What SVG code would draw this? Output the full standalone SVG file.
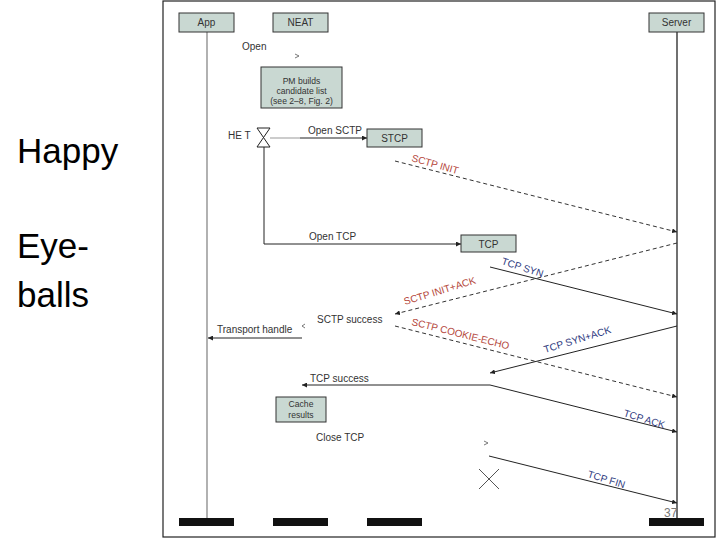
<svg xmlns="http://www.w3.org/2000/svg" width="720" height="540" viewBox="0 0 720 540">
<style>
.t{font-family:"Liberation Sans",Arial,sans-serif;font-size:10px;fill:#333}
.pm{font-size:8.6px}
.big{font-family:"Liberation Sans",Arial,sans-serif;font-size:35px;fill:#000}
.box{fill:#c9d8d2;stroke:#333;stroke-width:1}
.red{fill:#b5483c}
.blue{fill:#2e3a80}
.sol{stroke:#222;stroke-width:1;fill:none}
.dash{stroke:#333;stroke-width:1;fill:none;stroke-dasharray:4 3}
.bar{fill:#111}
</style>
<defs>
<marker id="ah" viewBox="0 0 6 6" refX="6" refY="3" markerWidth="5" markerHeight="5" orient="auto">
<path d="M0,0 L6,3 L0,6 Z" fill="#222"/>
</marker>
</defs>
<rect width="720" height="540" fill="#fff"/>
<g id="title">
<text class="big" x="17" y="163">Happy</text>
<text class="big" x="17" y="258">Eye-</text>
<text class="big" x="17" y="307">balls</text>
</g>
<rect id="frame" x="163" y="1" width="552" height="536" fill="none" stroke="#222" stroke-width="1.2"/>
<g id="connectors">
<line x1="207" y1="32" x2="207" y2="518" stroke="#888" stroke-width="1.3"/>
<line x1="677" y1="32" x2="677" y2="518" stroke="#111" stroke-width="1.2"/>
<path d="M295,54 L299,56 L295,58" fill="none" stroke="#555" stroke-width="0.8"/>
<line x1="270" y1="138" x2="300" y2="138" stroke="#999" stroke-width="1"/>
<line x1="300" y1="138" x2="367" y2="138" class="sol" marker-end="url(#ah)"/>
<path d="M264,147 V244 H461" class="sol" marker-end="url(#ah)"/>
<line x1="395" y1="161" x2="677" y2="232" class="dash" marker-end="url(#ah)"/>
<line x1="677" y1="243" x2="395" y2="314" class="dash" marker-end="url(#ah)"/>
<line x1="490" y1="267" x2="677" y2="314" class="sol" marker-end="url(#ah)"/>
<line x1="395" y1="326" x2="677" y2="397" class="dash" marker-end="url(#ah)"/>
<line x1="677" y1="326" x2="490" y2="373" class="sol" marker-end="url(#ah)"/>
<line x1="490" y1="385" x2="302" y2="385" class="sol" marker-end="url(#ah)"/>
<line x1="490" y1="385" x2="677" y2="432" class="sol" marker-end="url(#ah)"/>
<path d="M305,324 L302,326 L305,328" fill="none" stroke="#555" stroke-width="0.8"/>
<line x1="302" y1="338" x2="208" y2="338" class="sol" marker-end="url(#ah)"/>
<path d="M484,441 L488,443 L484,445" fill="none" stroke="#555" stroke-width="0.8"/>
<line x1="489" y1="456" x2="677" y2="503" class="sol" marker-end="url(#ah)"/>
<path d="M479,469 L499,489 M499,469 L479,489" stroke="#555" stroke-width="1" fill="none"/>
</g>
<g id="app"><rect class="box" x="179" y="13" width="55" height="19"/><text class="t" x="206.5" y="26" text-anchor="middle">App</text></g>
<g id="neat"><rect class="box" x="273" y="13" width="55" height="19"/><text class="t" x="300.5" y="26" text-anchor="middle">NEAT</text></g>
<g id="server"><rect class="box" x="649" y="13" width="55" height="19"/><text class="t" x="676.5" y="26" text-anchor="middle">Server</text></g>
<g id="open"><text class="t" x="242" y="50">Open</text></g>
<g id="pm">
<rect class="box" x="261" y="67" width="81" height="41"/>
<text class="t pm" x="301.5" y="84" text-anchor="middle">PM builds</text>
<text class="t pm" x="301.5" y="94" text-anchor="middle">candidate list</text>
<text class="t pm" x="301.5" y="104" text-anchor="middle">(see 2–8, Fig. 2)</text>
</g>
<g id="timer">
<text class="t" x="228" y="139">HE T</text>
<path d="M257,128 H270 L257,147 H270 Z" fill="#fff" stroke="#222" stroke-width="1"/>
</g>
<g id="stcp"><rect class="box" x="367" y="129" width="55" height="18"/><text class="t" x="394.5" y="142" text-anchor="middle">STCP</text></g>
<g id="tcp"><rect class="box" x="461" y="235" width="55" height="17"/><text class="t" x="488.5" y="248" text-anchor="middle">TCP</text></g>
<g id="cache">
<rect class="box" x="276" y="397" width="50" height="25"/>
<text class="t pm" x="301" y="407" text-anchor="middle">Cache</text>
<text class="t pm" x="301" y="418" text-anchor="middle">results</text>
</g>
<g id="labels">
<text class="t" x="308" y="134">Open SCTP</text>
<text class="t" x="309" y="240">Open TCP</text>
<text class="t" x="317" y="323">SCTP success</text>
<text class="t" x="217" y="333">Transport handle</text>
<text class="t" x="310" y="382">TCP success</text>
<text class="t" x="316" y="441">Close TCP</text>
<text class="t red" transform="translate(411,161) rotate(16)">SCTP INIT</text>
<text class="t red" transform="translate(405,305) rotate(-17)">SCTP INIT+ACK</text>
<text class="t red" transform="translate(411,325) rotate(14)">SCTP COOKIE-ECHO</text>
<text class="t blue" transform="translate(501,264) rotate(18)">TCP SYN</text>
<text class="t blue" transform="translate(545,353) rotate(-17)">TCP SYN+ACK</text>
<text class="t blue" transform="translate(623,416) rotate(17)">TCP ACK</text>
<text class="t blue" transform="translate(587,477) rotate(17)">TCP FIN</text>
</g>
<g id="bars">
<rect class="bar" x="179" y="518" width="55" height="8"/>
<rect class="bar" x="273" y="518" width="55" height="8"/>
<rect class="bar" x="367" y="518" width="55" height="8"/>
<rect class="bar" x="649" y="518" width="55" height="8"/>
<text x="664" y="517" font-family="Liberation Sans, Arial, sans-serif" font-size="12" fill="#777">37</text>
</g>
</svg>
